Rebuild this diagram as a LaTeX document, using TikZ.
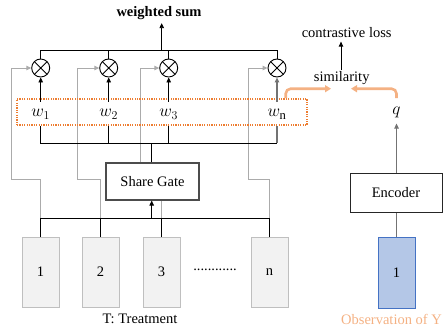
\documentclass[tikz,border=0pt]{standalone}
\usepackage{fontspec}
\setmainfont{Liberation Serif}
\usetikzlibrary{arrows.meta,calc,backgrounds}
\definecolor{boxgray}{HTML}{F2F2F2}
\definecolor{boxedge}{HTML}{BFBFBF}
\definecolor{obsfill}{HTML}{B4C7E7}
\definecolor{obsedge}{HTML}{4472C4}
\definecolor{orangeline}{HTML}{F4B183}
\definecolor{orangedot}{HTML}{ED7D31}
\definecolor{skipgray}{HTML}{ABABAB}
\begin{document}
\begin{tikzpicture}[x=1pt,y=-1pt,
  every node/.style={font=\fontsize{14.5}{17}\selectfont},
  wire/.style={line width=0.9pt, draw=black},
  tip/.style={-{Triangle[length=5pt,width=4.5pt]}},
  skipline/.style={line width=1pt, draw=skipgray},
  mult/.style={circle, draw, line width=0.9pt, minimum size=18pt, inner sep=0pt,
    path picture={\draw[line width=0.9pt]
      (path picture bounding box.north west) -- (path picture bounding box.south east)
      (path picture bounding box.north east) -- (path picture bounding box.south west);}},
  tbox/.style={draw=boxedge, fill=boxgray, line width=1pt, minimum width=37pt,
    minimum height=70pt, inner sep=0pt},
  gatebox/.style={draw=black!70, fill=white, line width=1.1pt, minimum width=93pt,
    minimum height=37pt, inner sep=0pt},
  weight/.style={inner sep=0pt, minimum height=24pt, font=\fontsize{18}{20}\selectfont},
  orangearrow/.style={draw=orangeline, line width=2.6pt, rounded corners=5pt,
    -{Triangle[length=6pt,width=7pt]}}
]
\useasboundingbox (0,0) rectangle (443,329);

% treatment inputs
\node[tbox] (t1) at (40.5,272) {1};
\node[tbox] (t2) at (100.5,272) {2};
\node[tbox] (t3) at (161.5,272) {3};
\node[tbox] (tn) at (269.5,272) {n};
\node[anchor=base, inner sep=0pt] (dots) at (215,270) {............};
\node (tlabel) at (140,319) {T: Treatment};

% gate
\node[gatebox] (gate) at (152.5,181.5) {Share Gate};

% gate weights
\node[draw=orangedot, dash pattern=on 1.2pt off 1.2pt, line width=1.1pt, minimum width=290pt,
  minimum height=26pt, inner sep=0pt] (wgroup) at (162,112) {};
\node[weight] (w1) at (40.7,114) {$w_1$};
\node[weight] (w2) at (108.7,114) {$w_2$};
\node[weight] (w3) at (168.7,114) {$w_3$};
\node[weight] (wn) at (277,114) {$w_{\mathrm{n}}$};

% products
\node[mult] (m1) at (40.7,68) {};
\node[mult] (m2) at (108.7,68) {};
\node[mult] (m3) at (168.7,68) {};
\node[mult] (mn) at (277,68) {};
\node[font=\fontsize{14.5}{17}\selectfont\bfseries] (wsum) at (159,13) {weighted sum};

% bus levels
\coordinate (bbus) at (151.7,218);
\coordinate (wbus) at (151.7,143);
\coordinate (tbus) at (161.7,50);
\coordinate (jog) at (0,179);

% inputs -> gate
\draw[wire] (t1.north) -- (t1.north |- bbus) -- (tn.north |- bbus) -- (tn.north);
\draw[wire] (t2.north) -- (t2.north |- bbus);
\draw[wire] (t3.north) -- (t3.north |- bbus);
\draw[wire,tip] (bbus) -- (bbus |- gate.south);

% gate -> weights
\draw[wire] (bbus |- gate.north) -- (wbus);
\draw[wire] (w1.south) -- (w1.south |- wbus) -- (wn.south |- wbus);
\draw[wire] (w2.south) -- (w2.south |- wbus);
\draw[wire] (w3.south) -- (w3.south |- wbus);
\draw[line width=1.1pt, draw=black!55] (wn.south) -- (wn.south |- wbus);

% weights -> products
\draw[wire,tip] (w1.north) -- (m1.south);
\draw[wire,tip] (w2.north) -- (m2.south);
\draw[wire,tip] (w3.north) -- (m3.south);
\draw[line width=1.1pt, draw=black!55, tip] (wn.north) -- (mn.south);

% products -> weighted sum
\draw[wire] (m1.north) -- (m1.north |- tbus) -- (mn.north |- tbus) -- (mn.north);
\draw[wire] (m2.north) -- (m2.north |- tbus);
\draw[wire] (m3.north) -- (m3.north |- tbus);
\draw[wire,tip] (tbus) -- (tbus |- wsum.south);

% skip connections from the inputs to the products
\begin{scope}[on background layer]
\draw[skipline,tip] (t1.north |- bbus) -- (t1.north |- jog) -- ++(-28.7,0) |- (m1.west);
\draw[skipline,tip] (t2.north |- bbus) -- (t2.north |- jog) -- ++(-23.5,0) |- (m2.west);
\draw[skipline,tip] (t3.north |- bbus) -- (t3.north |- gate) -- ++(-21.5,0) |- (m3.west);
\draw[skipline,tip] (tn.north |- bbus) -- (tn.north |- jog) -- ++(-21.3,0) |- (mn.west);
\end{scope}

% observation branch
\node[draw=obsedge, fill=obsfill, line width=1pt, minimum width=37pt,
  minimum height=71pt, inner sep=0pt] (obs) at (396.5,272.5) {1};
\node[text=orangeline] (olabel) at (391.5,319) {Observation of Y};
\node[draw=black!85, line width=1pt, minimum width=92pt, minimum height=39pt,
  inner sep=0pt] (enc) at (396,192.5) {Encoder};
\node[inner sep=2pt, font=\fontsize{18}{20}\selectfont] (q) at (396.5,112) {$q$};
\draw[line width=1.1pt, draw=black!55] (obs.north) -- (obs.north |- enc.south);
\draw[line width=1.1pt, draw=black!55, tip, shorten >=4pt] (obs.north |- enc.north) -- (obs.north |- q.south);

% similarity and loss
\node (sim) at (341.7,78) {similarity};
\node (closs) at (346.7,33) {contrastive loss};
\draw[wire,tip] (341,70) coordinate (simtop) -- (simtop |- closs.south);

\coordinate (oL) at (285.7,98);
\coordinate (oR) at (396.5,98);
\coordinate (simL) at (331,88.7);
\coordinate (simR) at (351,88.7);
\draw[orangearrow] (oL) |- (simL);
\draw[orangearrow] (oR) |- (simR);
\end{tikzpicture}
\end{document}
